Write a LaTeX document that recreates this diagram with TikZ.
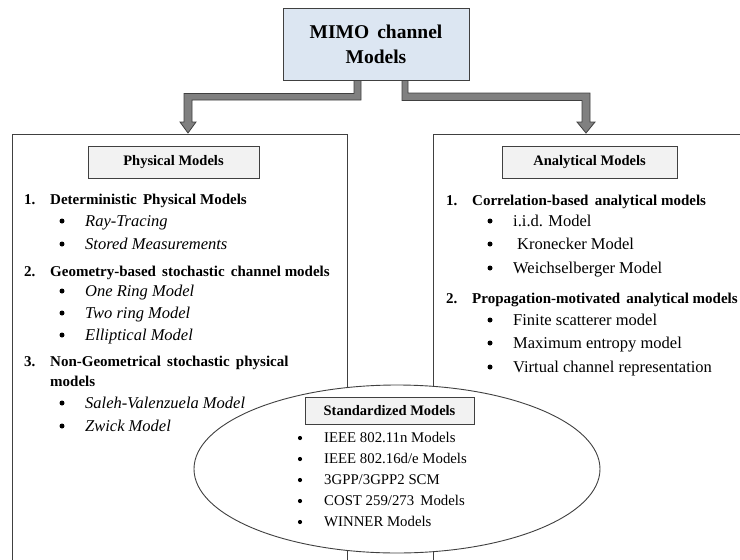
\documentclass[tikz,border=0pt]{standalone}
\usepackage{fontspec}
\setmainfont{Liberation Serif}
\usetikzlibrary{calc,shapes.geometric}
\definecolor{topfill}{HTML}{DCE6F2}
\definecolor{hdrfill}{HTML}{F2F2F2}
\definecolor{linegray}{HTML}{404040}
\definecolor{arrowfill}{HTML}{808080}
\begin{document}
\begin{tikzpicture}[x=1pt,y=-1pt,
  panel/.style={draw=linegray,line width=1.1pt,inner sep=0pt,anchor=north west},
  hdr/.style={draw=linegray,line width=1pt,fill=hdrfill,inner sep=0pt,font=\fontsize{14.5}{17}\selectfont\bfseries},
  num/.style={anchor=mid west,inner sep=0pt,font=\fontsize{15}{18}\selectfont\bfseries},
  itm/.style={anchor=mid west,inner sep=0pt,font=\fontsize{16.5}{18}\selectfont\itshape},
  rit/.style={anchor=mid west,inner sep=0pt,font=\fontsize{16.5}{18}\selectfont},
  sit/.style={anchor=mid west,inner sep=0pt,font=\fontsize{14.8}{16}\selectfont},
  bul/.style={circle,fill=black,inner sep=0pt,minimum size=5},
  sbul/.style={circle,fill=black,inner sep=0pt,minimum size=4.2},
  conn/.style={draw=linegray,line width=0.8pt,fill=arrowfill,line join=miter}
]
\useasboundingbox (0,0) rectangle (740,560);

% top box
\node[draw=linegray,line width=1pt,fill=topfill,minimum width=186,minimum height=72,inner sep=0pt,
  align=center,font=\fontsize{19.5}{25}\selectfont\bfseries] (mimo) at (376,44) {MIMO\, channel\\Models};

% panels
\node[panel,minimum width=335,minimum height=440] (phys) at (12,134) {};
\node[panel,minimum width=330,minimum height=440] (anal) at (433,134) {};

% connectors
\coordinate (ls) at ($(mimo.south)+(-22,0)$);
\coordinate (rs) at ($(mimo.south)+(26,0)$);
\coordinate (lt) at ($(phys.north west)+(176,-1)$);
\coordinate (rt) at ($(anal.north west)+(153,-1)$);
\draw[conn] (ls) -- ++(7,0) |- ($(lt)+(4,-33)$) -- ($(lt)+(4,-11)$) -- ($(lt)+(8,-11)$) -- (lt)
  -- ($(lt)+(-8,-11)$) -- ($(lt)+(-4,-11)$) |- ($(ls)+(0,13)$) -- cycle;
\draw[conn] (rs) -- ++(6,0) |- ($(rt)+(4,-40)$) -- ($(rt)+(4,-11)$) -- ($(rt)+(9,-11)$) -- (rt)
  -- ($(rt)+(-9,-11)$) -- ($(rt)+(-4,-11)$) |- ($(rs)+(0,20)$) -- cycle;

% headers
\node[hdr,minimum width=171,minimum height=32] (physh) at (173.5,162) {Physical Models};
\node[hdr,minimum width=175,minimum height=32] (analh) at (589.5,162) {Analytical Models};

% left column
\node[num] (l1n) at (24,202) {1.};
\node[num] (l1) at (50,202) {Deterministic\, Physical Models};
\node[bul] (l1ab) at (62,221) {};
\node[itm] (l1a) at (85,224) {Ray-Tracing};
\node[bul] (l1bb) at (62,244) {};
\node[itm] (l1b) at (85,247) {Stored Measurements};
\node[num] (l2n) at (24,274) {2.};
\node[num] (l2) at (50,274) {Geometry-based\, stochastic\, channel models};
\node[bul] (l2ab) at (62,291) {};
\node[itm] (l2a) at (85,294) {One Ring Model};
\node[bul] (l2bb) at (62,313) {};
\node[itm] (l2b) at (85,316) {Two ring Model};
\node[bul] (l2cb) at (62,335) {};
\node[itm] (l2c) at (85,338) {Elliptical Model};
\node[num] (l3n) at (24,364) {3.};
\node[num] (l3) at (50,364) {Non-Geometrical\, stochastic\, physical};
\node[num] (l3x) at (50,384) {models};
\node[bul] (l3ab) at (62,403) {};
\node[itm] (l3a) at (85,406) {Saleh-Valenzuela Model};
\node[bul] (l3bb) at (62,426) {};
\node[itm] (l3b) at (85,429) {Zwick Model};

% right column
\node[num] (r1n) at (446,203) {1.};
\node[num] (r1) at (472,203) {Correlation-based\, analytical models};
\node[bul] (r1ab) at (490,221) {};
\node[rit] (r1a) at (513,224) {i.i.d. Model};
\node[bul] (r1bb) at (490,244) {};
\node[rit] (r1b) at (517,247) {Kronecker Model};
\node[bul] (r1cb) at (490,268) {};
\node[rit] (r1c) at (513,271) {Weichselberger Model};
\node[num] (r2n) at (446,301) {2.};
\node[num] (r2) at (472,301) {Propagation-motivated\, analytical models};
\node[bul] (r2ab) at (490,320) {};
\node[rit] (r2a) at (513,323) {Finite scatterer model};
\node[bul] (r2bb) at (490,343) {};
\node[rit] (r2b) at (513,346) {Maximum entropy model};
\node[bul] (r2cb) at (490,367) {};
\node[rit] (r2c) at (513,370) {Virtual channel representation};

% ellipse
\node[ellipse,draw=linegray,line width=0.9pt,fill=white,minimum width=406,minimum height=168,inner sep=0pt] (std) at (397,469) {};
\node[hdr,minimum width=169,minimum height=27] (stdh) at (389.5,410.5) {Standardized Models};
\node[sbul] (s1b) at (300,438) {};
\node[sit] (s1) at (324,440.5) {IEEE 802.11n Models};
\node[sbul] (s2b) at (300,459) {};
\node[sit] (s2) at (324,461.5) {IEEE 802.16d/e Models};
\node[sbul] (s3b) at (300,480) {};
\node[sit] (s3) at (324,482.5) {3GPP/3GPP2 SCM};
\node[sbul] (s4b) at (300,501) {};
\node[sit] (s4) at (324,503.5) {COST 259/273\, Models};
\node[sbul] (s5b) at (300,522) {};
\node[sit] (s5) at (324,524.5) {WINNER Models};
\end{tikzpicture}
\end{document}
